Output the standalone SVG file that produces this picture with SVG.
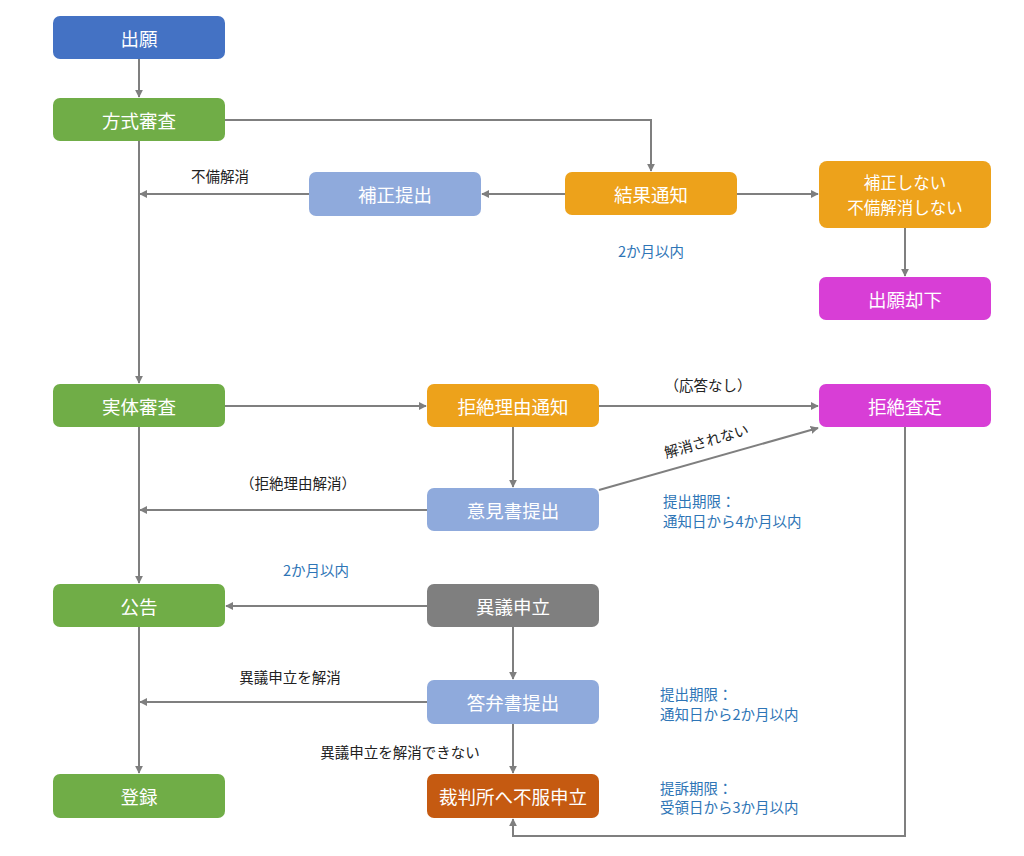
<svg xmlns="http://www.w3.org/2000/svg" width="1024" height="856" viewBox="0 0 1024 856">
<style>
.t{font-family:"Noto Sans CJK JP","Noto Sans",sans-serif;font-size:18.5px;fill:#fff;text-anchor:middle;dominant-baseline:central}
.t2{font-size:16.5px}
.l{font-family:"Noto Sans CJK JP","Noto Sans",sans-serif;font-size:14.5px;fill:#222;text-anchor:middle;dominant-baseline:central}
.b{font-family:"Noto Sans CJK JP","Noto Sans",sans-serif;font-size:14.5px;fill:#2E75B6;dominant-baseline:central}
.c{fill:none;stroke:#7F7F7F;stroke-width:2;marker-end:url(#a)}
.green{fill:#70AD47}.blue{fill:#4472C4}.lb{fill:#8FAADC}.or{fill:#EDA21B}.mg{fill:#D83ED6}.gr{fill:#7F7F7F}.br{fill:#C55A11}
</style>
<defs>
<marker id="a" viewBox="0 0 10 10" refX="9" refY="5" markerWidth="4" markerHeight="4" orient="auto"><path d="M0,0L10,5L0,10z" fill="#7F7F7F"/></marker>
</defs>
<rect width="1024" height="856" fill="#fff"/>
<g id="connectors">
<path class="c" d="M139,59V97"/>
<path class="c" d="M225,120H651V171"/>
<path class="c" d="M565,194H482"/>
<path class="c" d="M309,194H140"/>
<path class="c" d="M737,194H818"/>
<path class="c" d="M905,228V276"/>
<path class="c" d="M139,141V383"/>
<path class="c" d="M225,406H426"/>
<path class="c" d="M599,406H818"/>
<path class="c" d="M513,427V487"/>
<path class="c" d="M599,490L818,428"/>
<path class="c" d="M427,510H140"/>
<path class="c" d="M139,427V583"/>
<path class="c" d="M427,606H226"/>
<path class="c" d="M513,627V679"/>
<path class="c" d="M427,702H140"/>
<path class="c" d="M139,627V773"/>
<path class="c" d="M513,724V773"/>
<path class="c" d="M905,427V836H513V819"/>
</g>
<g id="n1"><rect class="blue" x="53" y="16" width="172" height="43" rx="7"/><text class="t" x="139" y="38">出願</text></g>
<g id="n2"><rect class="green" x="53" y="98" width="172" height="43" rx="7"/><text class="t" x="139" y="120">方式審査</text></g>
<g id="n3"><rect class="lb" x="309" y="172" width="172" height="44" rx="7"/><text class="t" x="395" y="194">補正提出</text></g>
<g id="n4"><rect class="or" x="565" y="172" width="172" height="43" rx="7"/><text class="t" x="651" y="194">結果通知</text></g>
<g id="n5"><rect class="or" x="819" y="161" width="172" height="67" rx="8"/><text class="t t2" x="905" y="182">補正しない</text><text class="t t2" x="905" y="207">不備解消しない</text></g>
<g id="n6"><rect class="mg" x="819" y="277" width="172" height="43" rx="7"/><text class="t" x="905" y="299">出願却下</text></g>
<g id="n7"><rect class="green" x="53" y="384" width="172" height="43" rx="7"/><text class="t" x="139" y="406">実体審査</text></g>
<g id="n8"><rect class="or" x="427" y="384" width="172" height="43" rx="7"/><text class="t" x="513" y="406">拒絶理由通知</text></g>
<g id="n9"><rect class="mg" x="819" y="384" width="172" height="43" rx="7"/><text class="t" x="905" y="406">拒絶査定</text></g>
<g id="n10"><rect class="lb" x="427" y="488" width="172" height="43" rx="7"/><text class="t" x="513" y="510">意見書提出</text></g>
<g id="n11"><rect class="green" x="53" y="584" width="172" height="43" rx="7"/><text class="t" x="139" y="606">公告</text></g>
<g id="n12"><rect class="gr" x="427" y="584" width="172" height="43" rx="7"/><text class="t" x="513" y="606">異議申立</text></g>
<g id="n13"><rect class="lb" x="427" y="680" width="172" height="44" rx="7"/><text class="t" x="513" y="702">答弁書提出</text></g>
<g id="n14"><rect class="green" x="53" y="774" width="172" height="44" rx="7"/><text class="t" x="139" y="796">登録</text></g>
<g id="n15"><rect class="br" x="427" y="774" width="172" height="44" rx="7"/><text class="t" x="513" y="796">裁判所へ不服申立</text></g>
<g id="labels">
<text class="l" x="220" y="175">不備解消</text>
<text class="b" x="651" y="250" text-anchor="middle">2か月以内</text>
<text class="l" x="708" y="384">（応答なし）</text>
<text class="l" x="0" y="0" transform="translate(706,440) rotate(-16)">解消されない</text>
<text class="l" x="298" y="482">（拒絶理由解消）</text>
<text class="b" x="663" y="500">提出期限：</text>
<text class="b" x="663" y="520">通知日から4か月以内</text>
<text class="b" x="316" y="569" text-anchor="middle">2か月以内</text>
<text class="l" x="290" y="676">異議申立を解消</text>
<text class="b" x="660" y="693">提出期限：</text>
<text class="b" x="660" y="713">通知日から2か月以内</text>
<text class="l" x="400" y="751">異議申立を解消できない</text>
<text class="b" x="660" y="787">提訴期限：</text>
<text class="b" x="660" y="806">受領日から3か月以内</text>
</g>
</svg>
